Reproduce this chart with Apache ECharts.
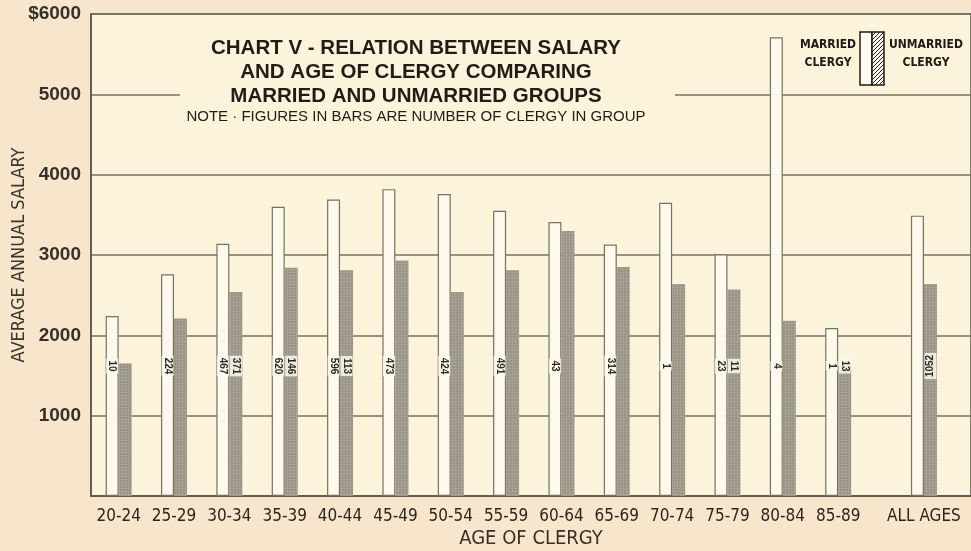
<!DOCTYPE html>
<html>
<head>
<meta charset="utf-8">
<script src="https://cdn.jsdelivr.net/npm/echarts@6/dist/echarts.min.js"></script>
<style>
  html, body { margin: 0; padding: 0; background: #f7e6cc; }
  #chart { width: 971px; height: 551px; }
</style>
</head>
<body>
<div id="chart"></div>
<script>
// age groups, married / unmarried average salary, counts printed in bars
const ageGroups = ['20-24', '25-29', '30-34', '35-39', '40-44', '45-49', '50-54', '55-59', '60-64', '65-69', '70-74', '75-79', '80-84', '85-89', 'ALL AGES']
const marriedSalary = [2240, 2760, 3140, 3600, 3690, 3820, 3760, 3550, 3410, 3130, 3650, 3010, 5710, 2090, 3490]
const unmarriedSalary = [1650, 2210, 2540, 2840, 2810, 2930, 2540, 2810, 3300, 2850, 2640, 2570, 2180, 1620, 2640]
const marriedCount = ['10', '224', '467', '620', '596', '473', '424', '491', '43', '314', '1', '23', '4', '1', '']
const unmarriedCount = ['', '', '371', '146', '113', '', '', '', '', '', '', '11', '', '13', '1052']

// ALL AGES sits a bit apart from the age groups
const slots = ageGroups.map((g, i) => (i < ageGroups.length - 1 ? i : 14.55))

const chart = echarts.init(document.getElementById('chart'))

const ink = '#35302a'
const condensed = '"Liberation Sans Narrow", "DejaVu Sans Condensed", "Liberation Sans", sans-serif'
const plotBg = '#fcf4da'

function hatchPattern() {
    const c = document.createElement('canvas')
    c.width = 4
    c.height = 4
    const ctx = c.getContext('2d')
    ctx.fillStyle = '#fdfaf0'
    ctx.fillRect(0, 0, 4, 4)
    ctx.strokeStyle = '#222'
    ctx.lineWidth = 1
    ctx.beginPath()
    ctx.moveTo(0, 4)
    ctx.lineTo(4, 0)
    ctx.stroke()
    return { image: c, repeat: 'repeat' }
}

const labelBase = {
    position: 'insideBottom',
    distance: 130,
    rotate: -90,
    align: 'center',
    verticalAlign: 'middle',
    fontSize: 10,
    fontWeight: 'bold',
    fontFamily: 'Liberation Sans, sans-serif',
    color: '#2e2a24',
    backgroundColor: 'rgba(250,248,238,0.85)',
    padding: [1, 2]
}

function barItems(values, counts) {
    return slots.map((x, i) => ({
        value: [x, values[i]],
        label: {
            show: counts[i] !== '',
            formatter: counts[i],
            // the total is printed the other way round
            rotate: counts[i] === '1052' ? 90 : -90
        }
    }))
}

chart.setOption({
    backgroundColor: '#f7e6cc',
    animation: false,
    grid: {
        left: 91,
        right: 0,
        top: 14,
        bottom: 55,
        outerBoundsMode: 'none',
        show: true,
        backgroundColor: plotBg,
        borderColor: '#5a554c',
        borderWidth: 1.5
    },
    xAxis: {
        type: 'value',
        min: -0.5,
        max: 15.4,
        name: 'AGE OF CLERGY',
        nameLocation: 'middle',
        nameGap: 33,
        nameMoveOverlap: false,
        nameTextStyle: { color: ink, fontSize: 20, fontFamily: condensed },
        axisLine: { show: true, onZero: false, lineStyle: { color: '#5a554c', width: 1.5 } },
        axisTick: { show: false },
        splitLine: { show: false },
        axisLabel: {
            customValues: slots,
            color: '#2a2520',
            fontSize: 17,
            fontFamily: condensed,
            margin: 12,
            formatter: v => ageGroups[slots.indexOf(v)] || ''
        }
    },
    yAxis: {
        type: 'value',
        min: 0,
        max: 6000,
        interval: 1000,
        name: 'AVERAGE ANNUAL SALARY',
        nameLocation: 'middle',
        nameGap: 63,
        nameMoveOverlap: false,
        nameTextStyle: { color: '#3a352f', fontSize: 18, fontFamily: condensed },
        axisLine: { show: true, onZero: false, lineStyle: { color: '#5a554c', width: 1.5 } },
        axisTick: { show: false },
        axisLabel: {
            color: ink,
            fontSize: 19,
            fontWeight: 'bold',
            fontFamily: 'Liberation Sans, sans-serif',
            margin: 10,
            formatter: v => (v === 0 ? '' : v === 6000 ? '$' + v : String(v))
        },
        splitLine: { show: true, lineStyle: { color: '#7a7262', width: 1.5 } }
    },
    series: [
        {
            name: 'MARRIED CLERGY',
            type: 'bar',
            barWidth: 13,
            barGap: '0%',
            data: barItems(marriedSalary, marriedCount),
            itemStyle: { color: '#fdf9ec', borderColor: '#77715f', borderWidth: 1.2 },
            label: labelBase
        },
        {
            name: 'UNMARRIED CLERGY',
            type: 'bar',
            barWidth: 13,
            barGap: '0%',
            data: barItems(unmarriedSalary, unmarriedCount),
            itemStyle: {
                color: '#a5a193',
                decal: { symbol: 'rect', symbolSize: 0.7, dashArrayX: [2, 1], dashArrayY: [2, 1], color: 'rgba(80,78,70,0.3)' }
            },
            label: labelBase
        }
    ],
    graphic: [
        // title block hides the 5000 rule behind it
        { type: 'rect', shape: { x: 180, y: 30, width: 495, height: 98 }, style: { fill: plotBg }, z: 5 },
        {
            type: 'text', x: 416, y: 72, z: 6,
            style: {
                text: 'CHART V - RELATION BETWEEN SALARY\nAND AGE OF CLERGY COMPARING\nMARRIED AND UNMARRIED GROUPS',
                align: 'center', verticalAlign: 'middle', lineHeight: 24,
                font: 'bold 20.5px "Liberation Sans", sans-serif', fill: '#201c18'
            }
        },
        {
            type: 'text', x: 416, y: 117, z: 6,
            style: {
                text: 'NOTE · FIGURES IN BARS ARE NUMBER OF CLERGY IN GROUP',
                align: 'center', verticalAlign: 'middle',
                font: '15px "Liberation Sans", sans-serif', fill: '#201c18'
            }
        },
        // legend
        {
            type: 'text', x: 828, y: 54, z: 6,
            style: {
                text: 'MARRIED\nCLERGY', align: 'center', verticalAlign: 'middle', lineHeight: 18,
                font: 'bold 12px ' + condensed, fill: '#1e1a16'
            }
        },
        { type: 'rect', shape: { x: 860, y: 32, width: 12, height: 53 }, style: { fill: '#fdfaf0', stroke: '#1e1a16', lineWidth: 1.5 }, z: 6 },
        { type: 'rect', shape: { x: 872, y: 32, width: 12, height: 53 }, style: { fill: hatchPattern(), stroke: '#1e1a16', lineWidth: 1.5 }, z: 6 },
        {
            type: 'text', x: 926, y: 54, z: 6,
            style: {
                text: 'UNMARRIED\nCLERGY', align: 'center', verticalAlign: 'middle', lineHeight: 18,
                font: 'bold 12px ' + condensed, fill: '#1e1a16'
            }
        }
    ]
})
</script>
</body>
</html>
